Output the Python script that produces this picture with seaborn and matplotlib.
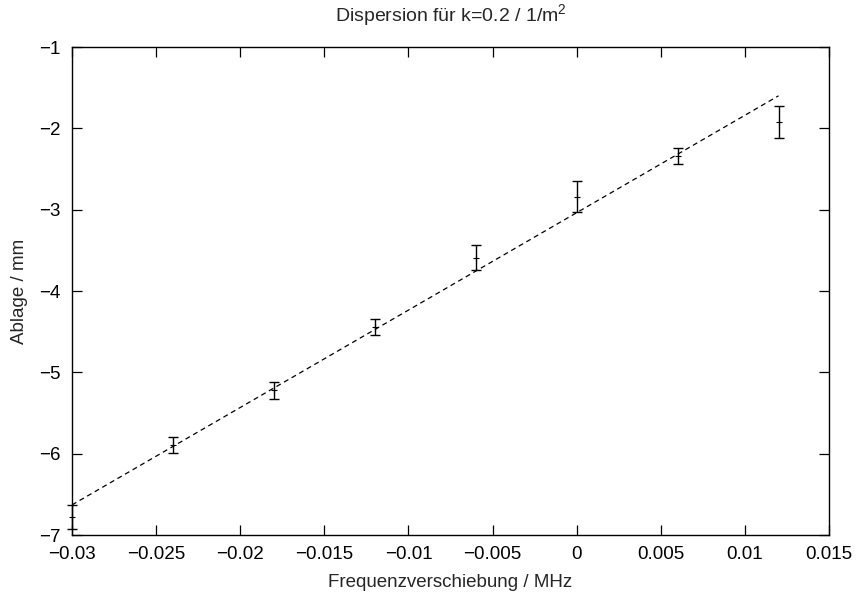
import matplotlib
matplotlib.use("Agg")
import matplotlib.pyplot as plt
import seaborn as sns
import pandas as pd
import numpy as np

# Data
freq = [-0.030, -0.024, -0.018, -0.012, -0.006, 0.000, 0.006, 0.012]
ablage = [-6.78, -5.89, -5.22, -4.44, -3.59, -2.84, -2.34, -1.92]
err = [0.15, 0.10, 0.105, 0.10, 0.15, 0.19, 0.10, 0.20]
fit_x = [-0.030, 0.012]
fit_y = [-6.63, -1.60]
xticks = [-0.03, -0.025, -0.02, -0.015, -0.01, -0.005, 0, 0.005, 0.01, 0.015]
xticklabels = ["\u22120.03", "\u22120.025", "\u22120.02", "\u22120.015", "\u22120.01",
               "\u22120.005", "0", "0.005", "0.01", "0.015"]
yticks = [-7, -6, -5, -4, -3, -2, -1]
yticklabels = ["\u22127", "\u22126", "\u22125", "\u22124", "\u22123", "\u22122", "\u22121"]

sns.set_style("ticks")
plt.rcParams["font.family"] = ["Liberation Sans", "DejaVu Sans"]
plt.rcParams["mathtext.default"] = "regular"

fig = plt.figure(figsize=(8.57, 5.96), dpi=100)
ax = fig.add_axes([72/857, 1 - 535/596, (829-72)/857, (535-47)/596])

df = pd.DataFrame({"x": freq, "y": ablage, "e": err})
fit = pd.DataFrame({"x": fit_x, "y": fit_y})

sns.lineplot(data=fit, x="x", y="y", ax=ax, color="black", linewidth=0.9,
             linestyle=(0, (4, 3)), legend=False)
ax.errorbar(df["x"], df["y"], yerr=df["e"], fmt="none", ecolor="black",
            elinewidth=1.0, capsize=3.5, capthick=1.0, clip_on=False, zorder=3)
sns.scatterplot(data=df, x="x", y="y", ax=ax, marker="+", s=25, color="black",
                linewidth=0.8, legend=False, zorder=4, clip_on=False)

ax.set_xlim(-0.03, 0.015)
ax.set_ylim(-7, -1)
ax.set_xticks(xticks)
ax.set_xticklabels(xticklabels)
ax.set_yticks(yticks)
ax.set_yticklabels(yticklabels)
ax.tick_params(direction="in", length=7, width=0.9, top=True, right=True,
               labelsize=13.5, colors="black")
ax.tick_params(axis="x", pad=8)
ax.tick_params(axis="y", pad=8)
for s in ax.spines.values():
    s.set_visible(True)
    s.set_linewidth(1.0)
    s.set_color("black")

ax.set_xlabel("Frequenzverschiebung / MHz", fontsize=13.5, labelpad=8)
ax.set_ylabel("Ablage / mm", fontsize=13.5, labelpad=8)
ax.set_title("Dispersion für k=0.2 / 1/m$^{2}$", fontsize=14, pad=19)

fig.savefig("out.png", dpi=100)
